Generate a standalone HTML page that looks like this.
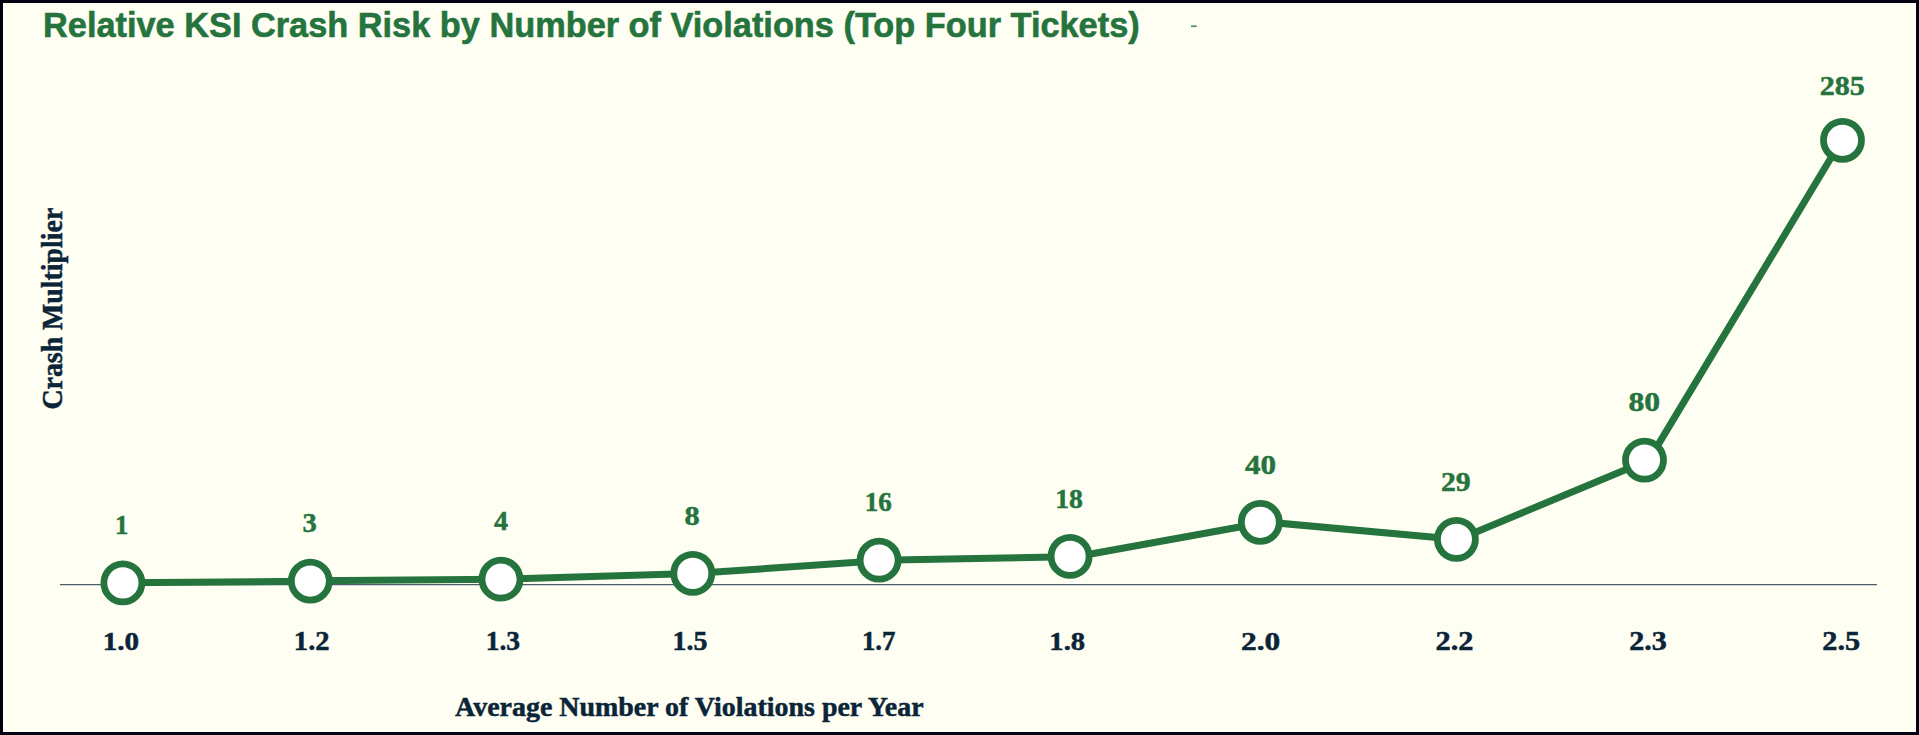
<!DOCTYPE html>
<html lang="en">
<head>
<meta charset="utf-8">
<title>Relative KSI Crash Risk by Number of Violations</title>
<style>
html,body{margin:0;padding:0;background:#fffef2;}
body{width:1919px;height:735px;overflow:hidden;position:relative;}
#frame{position:absolute;left:0;top:0;width:1913px;height:729px;border:3px solid #02000f;background:#fffef2;box-shadow:inset 0 0 0 1px #fffff8;}
svg{position:absolute;left:0;top:0;}
.title{font-family:"Liberation Sans",Arial,Helvetica,sans-serif;font-weight:700;fill:#25743e;stroke:#25743e;stroke-width:0.6px;}
.ser{font-family:"Liberation Serif","Times New Roman",serif;font-weight:700;}
.g{fill:#25743e;stroke:#25743e;stroke-width:0.5px;}
.n{fill:#0a2438;stroke:#0a2438;stroke-width:0.5px;}
</style>
</head>
<body>
<div id="frame"></div>
<svg width="1919" height="735" viewBox="0 0 1919 735">
<text class="title" transform="translate(43.03,37.20) scale(0.9960,1)" font-size="34.47">Relative KSI Crash Risk by Number of Violations (Top Four Tickets)</text>
<rect x="1191" y="25.4" width="5.6" height="1.7" fill="#25743e" opacity="0.8"/>
<line x1="60" y1="584.6" x2="1877" y2="584.6" stroke="#4a5d6b" stroke-width="1.3"/>
<line x1="122.90" y1="582.76" x2="310.30" y2="581.18" stroke="#25743e" stroke-width="7" stroke-linecap="round"/>
<line x1="310.30" y1="580.86" x2="501.00" y2="579.13" stroke="#25743e" stroke-width="7" stroke-linecap="round"/>
<line x1="501.00" y1="579.15" x2="692.80" y2="573.49" stroke="#25743e" stroke-width="7" stroke-linecap="round"/>
<line x1="692.80" y1="573.57" x2="879.10" y2="560.70" stroke="#25743e" stroke-width="7" stroke-linecap="round"/>
<line x1="879.10" y1="560.24" x2="1070.10" y2="556.77" stroke="#25743e" stroke-width="7" stroke-linecap="round"/>
<line x1="1070.10" y1="557.72" x2="1260.30" y2="523.31" stroke="#25743e" stroke-width="7" stroke-linecap="round"/>
<line x1="1260.30" y1="521.51" x2="1456.40" y2="539.26" stroke="#25743e" stroke-width="7" stroke-linecap="round"/>
<line x1="1456.40" y1="540.23" x2="1648.80" y2="459.90" stroke="#25743e" stroke-width="7" stroke-linecap="round"/>
<line x1="1648.84" y1="460.10" x2="1841.52" y2="140.30" stroke="#25743e" stroke-width="7" stroke-linecap="round"/>
<circle cx="122.9" cy="582.9" r="19.0" fill="#ffffff" stroke="#25743e" stroke-width="6.8"/>
<circle cx="310.3" cy="581.05" r="19.0" fill="#ffffff" stroke="#25743e" stroke-width="6.8"/>
<circle cx="501.0" cy="579.2" r="19.0" fill="#ffffff" stroke="#25743e" stroke-width="6.8"/>
<circle cx="692.8" cy="573.4" r="19.0" fill="#ffffff" stroke="#25743e" stroke-width="6.8"/>
<circle cx="879.1" cy="560.2" r="19.0" fill="#ffffff" stroke="#25743e" stroke-width="6.8"/>
<circle cx="1070.1" cy="556.4" r="19.0" fill="#ffffff" stroke="#25743e" stroke-width="6.8"/>
<circle cx="1260.3" cy="522.3" r="19.0" fill="#ffffff" stroke="#25743e" stroke-width="6.8"/>
<circle cx="1456.4" cy="539.35" r="19.0" fill="#ffffff" stroke="#25743e" stroke-width="6.8"/>
<circle cx="1644.5" cy="460.1" r="19.0" fill="#ffffff" stroke="#25743e" stroke-width="6.8"/>
<circle cx="1842.5" cy="140.3" r="19.0" fill="#ffffff" stroke="#25743e" stroke-width="6.8"/>
<text class="ser g" transform="translate(115.02,533.70) scale(0.9832,1)" font-size="27.12">1</text>
<text class="ser g" transform="translate(302.58,531.72) scale(1.0318,1)" font-size="27.66">3</text>
<text class="ser g" transform="translate(494.00,529.70) scale(1.0202,1)" font-size="27.53">4</text>
<text class="ser g" transform="translate(684.46,524.73) scale(1.1132,1)" font-size="27.26">8</text>
<text class="ser g" transform="translate(864.68,510.82) scale(0.9686,1)" font-size="27.96">16</text>
<text class="ser g" transform="translate(1055.13,507.82) scale(1.0059,1)" font-size="27.56">18</text>
<text class="ser g" transform="translate(1244.96,473.92) scale(1.1209,1)" font-size="27.70">40</text>
<text class="ser g" transform="translate(1440.99,491.12) scale(1.0569,1)" font-size="28.10">29</text>
<text class="ser g" transform="translate(1628.42,410.92) scale(1.1411,1)" font-size="27.70">80</text>
<text class="ser g" transform="translate(1819.77,94.92) scale(1.0714,1)" font-size="28.00">285</text>
<text class="ser n" transform="translate(102.63,649.81) scale(1.1098,1)" font-size="26.18">1.0</text>
<text class="ser n" transform="translate(293.87,649.81) scale(1.0870,1)" font-size="26.27">1.2</text>
<text class="ser n" transform="translate(485.75,649.81) scale(1.0463,1)" font-size="26.27">1.3</text>
<text class="ser n" transform="translate(672.62,649.80) scale(1.0581,1)" font-size="26.37">1.5</text>
<text class="ser n" transform="translate(861.90,649.80) scale(1.0201,1)" font-size="26.37">1.7</text>
<text class="ser n" transform="translate(1049.36,649.81) scale(1.0915,1)" font-size="26.18">1.8</text>
<text class="ser n" transform="translate(1241.01,649.81) scale(1.2016,1)" font-size="26.18">2.0</text>
<text class="ser n" transform="translate(1435.56,649.81) scale(1.1566,1)" font-size="26.27">2.2</text>
<text class="ser n" transform="translate(1629.27,649.81) scale(1.1459,1)" font-size="26.27">2.3</text>
<text class="ser n" transform="translate(1822.26,649.81) scale(1.1549,1)" font-size="26.27">2.5</text>
<text class="ser n" transform="translate(455.07,715.90) scale(0.9871,1)" font-size="28.33">Average Number of Violations per Year</text>
<text class="ser n" transform="translate(62.3,409.59) rotate(-90) scale(0.9312,1)" font-size="29.92">Crash Multiplier</text>
</svg>
</body>
</html>
